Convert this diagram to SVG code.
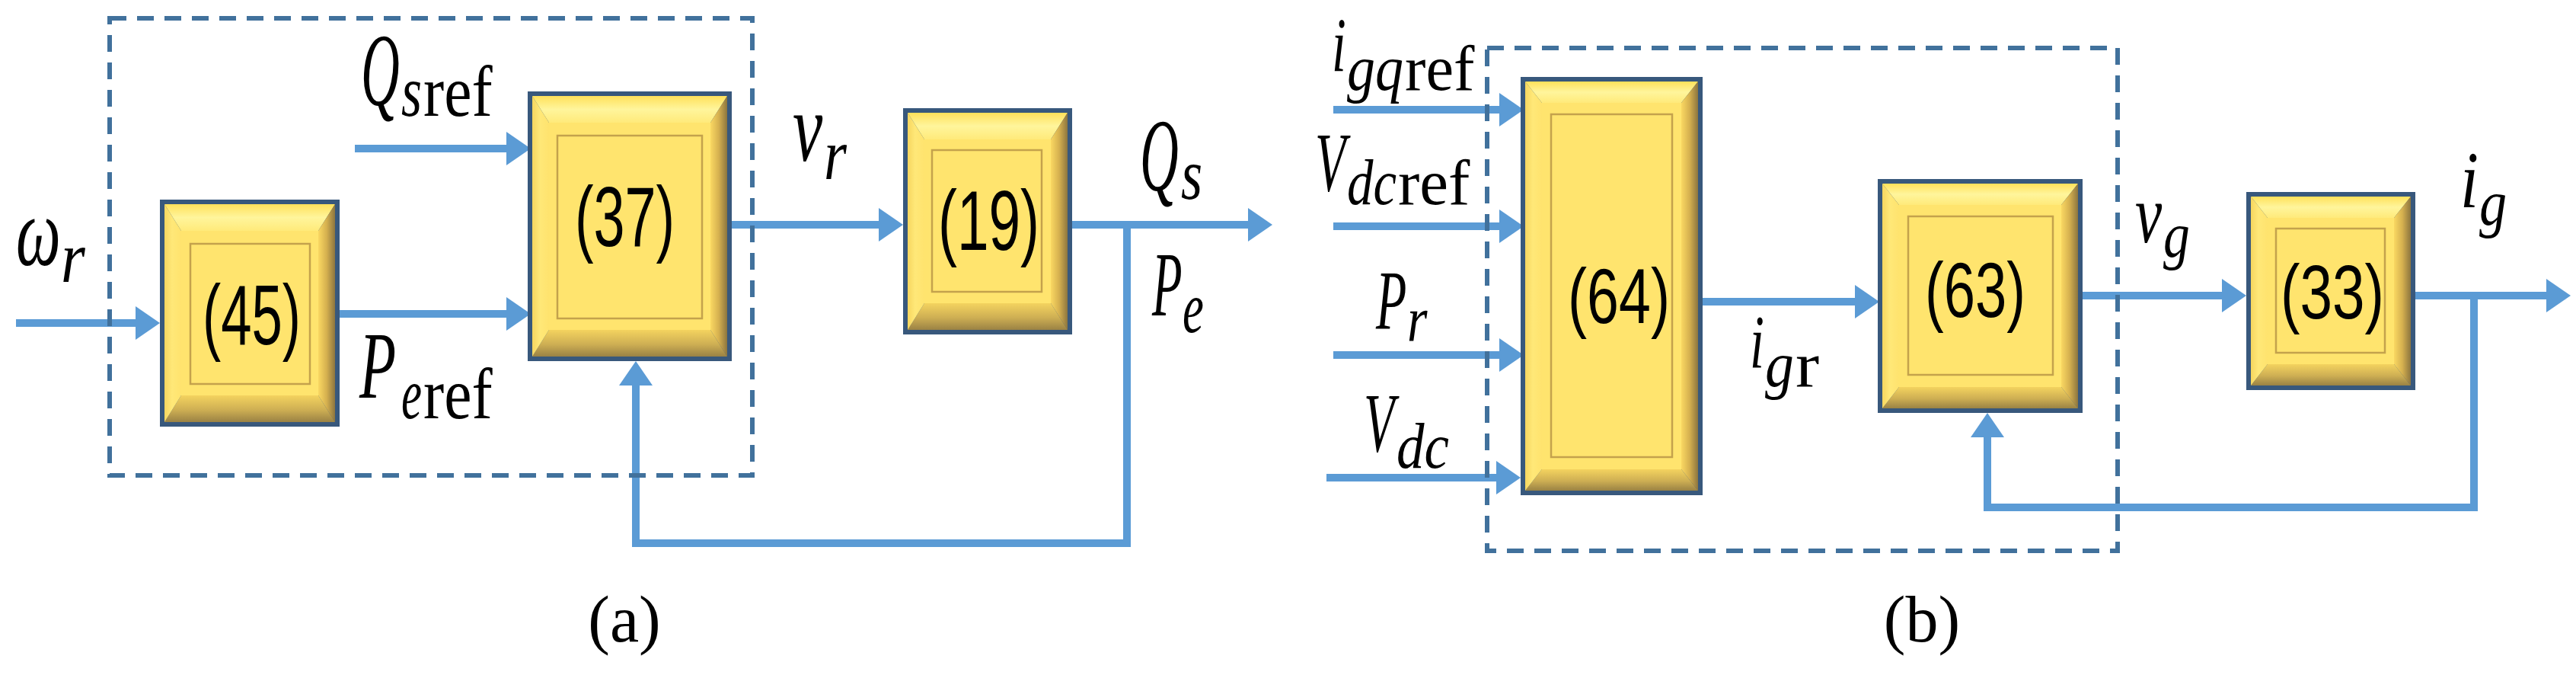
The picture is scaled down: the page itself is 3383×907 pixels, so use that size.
<svg xmlns="http://www.w3.org/2000/svg" width="3383" height="907" viewBox="0 0 3383 907">
<style>
.bg{fill:#ffffff}
.wire{fill:none;stroke:#5B9BD5;stroke-width:10;stroke-linejoin:miter}
.dash{fill:none;stroke:#41719C;stroke-width:6;stroke-dasharray:22 14}
.brd{fill:#38587C}
.top{fill:url(#gTop)}
.bot{fill:url(#gBot)}
.lft{fill:url(#gLeft)}
.rgt{fill:url(#gRight)}
.ctr{fill:#FFE46E}
.inr{fill:#FFE46E;stroke:#C4A24C;stroke-width:2.5}
.num{font-family:"Liberation Sans","Noto Sans",sans-serif;fill:#000}
.m{font-family:"Liberation Serif","DejaVu Serif",serif;fill:#000}
.it{font-style:italic}
.up{font-style:normal}
.cap{font-family:"Liberation Serif","DejaVu Serif",serif;font-size:86px;fill:#000;text-anchor:middle}
</style>
<defs>
<linearGradient id="gTop" x1="0" y1="0" x2="0" y2="1">
<stop offset="0" stop-color="#FFE15A"/><stop offset="0.5" stop-color="#FFF59C"/><stop offset="1" stop-color="#FFEA7A"/>
</linearGradient>
<linearGradient id="gBot" x1="0" y1="0" x2="0" y2="1">
<stop offset="0" stop-color="#F4D35F"/><stop offset="0.55" stop-color="#CDAE53"/><stop offset="1" stop-color="#9A8244"/>
</linearGradient>
<linearGradient id="gLeft" x1="0" y1="0" x2="1" y2="0">
<stop offset="0" stop-color="#F6D65F"/><stop offset="0.45" stop-color="#FFE878"/><stop offset="1" stop-color="#FFE36E"/>
</linearGradient>
<linearGradient id="gRight" x1="0" y1="0" x2="1" y2="0">
<stop offset="0" stop-color="#FAD862"/><stop offset="0.5" stop-color="#D5B04F"/><stop offset="1" stop-color="#8C753F"/>
</linearGradient>
<marker id="ah" markerUnits="userSpaceOnUse" markerWidth="32" markerHeight="44" viewBox="0 0 32 44" refX="0" refY="22" orient="auto">
<path d="M0,0 L32,22 L0,44 Z" fill="#5B9BD5"/>
</marker>
</defs>
<rect class="bg" x="0" y="0" width="3383" height="907"/>

<g id="connectors">
<path class="wire" d="M21,424 H178" marker-end="url(#ah)"/>
<path class="wire" d="M466,195 H665" marker-end="url(#ah)"/>
<path class="wire" d="M446,412 H665" marker-end="url(#ah)"/>
<path class="wire" d="M961,295 H1154" marker-end="url(#ah)"/>
<path class="wire" d="M1408,295 H1639" marker-end="url(#ah)"/>
<path class="wire" d="M1480,295 V713 H835 V506" marker-end="url(#ah)"/>
<path class="wire" d="M1751,144 H1969" marker-end="url(#ah)"/>
<path class="wire" d="M1751,297 H1969" marker-end="url(#ah)"/>
<path class="wire" d="M1751,466 H1969" marker-end="url(#ah)"/>
<path class="wire" d="M1742,627 H1965" marker-end="url(#ah)"/>
<path class="wire" d="M2236,396 H2436" marker-end="url(#ah)"/>
<path class="wire" d="M2735,388 H2918" marker-end="url(#ah)"/>
<path class="wire" d="M3172,388 H3344" marker-end="url(#ah)"/>
<path class="wire" d="M3249,388 V666 H2610 V574" marker-end="url(#ah)"/>
</g>

<g id="group-a">
<rect class="dash" x="144" y="24" width="844" height="600"/>
</g>
<g id="group-b">
<rect class="dash" x="1953" y="63" width="828" height="660"/>
</g>

<g id="block-45">
<rect class="brd" x="210" y="262" width="236" height="298"/>
<polygon class="top" points="216,268 440,268 418,303 238,303"/>
<polygon class="bot" points="216,554 440,554 418,519 238,519"/>
<polygon class="lft" points="216,268 238,303 238,519 216,554"/>
<polygon class="rgt" points="440,268 418,303 418,519 440,554"/>
<rect class="ctr" x="238" y="303" width="180" height="216"/>
<rect class="inr" x="250" y="320" width="157" height="184"/>
<text class="num" x="266" y="452" font-size="112" textLength="129" lengthAdjust="spacingAndGlyphs">(45)</text>
</g>

<g id="block-37">
<rect class="brd" x="693" y="120" width="268" height="354"/>
<polygon class="top" points="699,126 955,126 933,161 721,161"/>
<polygon class="bot" points="699,468 955,468 933,433 721,433"/>
<polygon class="lft" points="699,126 721,161 721,433 699,468"/>
<polygon class="rgt" points="955,126 933,161 933,433 955,468"/>
<rect class="ctr" x="721" y="161" width="212" height="272"/>
<rect class="inr" x="732" y="178" width="190" height="240"/>
<text class="num" x="755" y="323" font-size="112" textLength="131" lengthAdjust="spacingAndGlyphs">(37)</text>
</g>

<g id="block-19">
<rect class="brd" x="1186" y="142" width="222" height="297"/>
<polygon class="top" points="1192,148 1402,148 1380,183 1214,183"/>
<polygon class="bot" points="1192,433 1402,433 1380,398 1214,398"/>
<polygon class="lft" points="1192,148 1214,183 1214,398 1192,433"/>
<polygon class="rgt" points="1402,148 1380,183 1380,398 1402,433"/>
<rect class="ctr" x="1214" y="183" width="166" height="215"/>
<rect class="inr" x="1224" y="197" width="144" height="186"/>
<text class="num" x="1232" y="328" font-size="112" textLength="133" lengthAdjust="spacingAndGlyphs">(19)</text>
</g>

<g id="block-64">
<rect class="brd" x="1997" y="101" width="239" height="549"/>
<polygon class="top" points="2003,107 2230,107 2208,135 2025,135"/>
<polygon class="bot" points="2003,644 2230,644 2208,616 2025,616"/>
<polygon class="lft" points="2003,107 2025,135 2025,616 2003,644"/>
<polygon class="rgt" points="2230,107 2208,135 2208,616 2230,644"/>
<rect class="ctr" x="2025" y="135" width="183" height="481"/>
<rect class="inr" x="2037" y="150" width="159" height="450"/>
<text class="num" x="2059" y="424" font-size="102" textLength="134" lengthAdjust="spacingAndGlyphs">(64)</text>
</g>

<g id="block-63">
<rect class="brd" x="2466" y="235" width="269" height="307"/>
<polygon class="top" points="2472,241 2729,241 2707,269 2494,269"/>
<polygon class="bot" points="2472,536 2729,536 2707,508 2494,508"/>
<polygon class="lft" points="2472,241 2494,269 2494,508 2472,536"/>
<polygon class="rgt" points="2729,241 2707,269 2707,508 2729,536"/>
<rect class="ctr" x="2494" y="269" width="213" height="239"/>
<rect class="inr" x="2506" y="284" width="190" height="208"/>
<text class="num" x="2528" y="416" font-size="102" textLength="132" lengthAdjust="spacingAndGlyphs">(63)</text>
</g>

<g id="block-33">
<rect class="brd" x="2950" y="252" width="222" height="260"/>
<polygon class="top" points="2956,258 3166,258 3144,286 2978,286"/>
<polygon class="bot" points="2956,506 3166,506 3144,478 2978,478"/>
<polygon class="lft" points="2956,258 2978,286 2978,478 2956,506"/>
<polygon class="rgt" points="3166,258 3144,286 3144,478 3166,506"/>
<rect class="ctr" x="2978" y="286" width="166" height="192"/>
<rect class="inr" x="2989" y="300" width="143" height="163"/>
<text class="num" x="2995" y="418" font-size="100" textLength="136" lengthAdjust="spacingAndGlyphs">(33)</text>
</g>

<g id="labels">
<g id="lbl-omega-r">
<text class="m it" font-size="130" transform="translate(21,348) scale(0.64,1)">ω</text>
<text class="m it" font-size="95" transform="translate(80,370) scale(0.86,1)">r</text>
</g>
<g id="lbl-Qsref">
<text class="m it" font-size="135" transform="translate(474,138) scale(0.52,1)">Q</text>
<text class="m it" font-size="95" transform="translate(527,152) scale(0.73,1)">s</text>
<text class="m up" font-size="95" transform="translate(556,152) scale(0.86,1)">ref</text>
</g>
<g id="lbl-Peref">
<text class="m it" font-size="125" transform="translate(472,522) scale(0.63,1)">P</text>
<text class="m it" font-size="95" transform="translate(527,549) scale(0.64,1)">e</text>
<text class="m up" font-size="95" transform="translate(556,549) scale(0.86,1)">ref</text>
</g>
<g id="lbl-vr">
<text class="m it" font-size="130" transform="translate(1041,211) scale(0.68,1)">v</text>
<text class="m it" font-size="95" transform="translate(1082,235) scale(0.81,1)">r</text>
</g>
<g id="lbl-Qs">
<text class="m it" font-size="135" transform="translate(1497,250) scale(0.52,1)">Q</text>
<text class="m it" font-size="95" transform="translate(1551,261) scale(0.76,1)">s</text>
</g>
<g id="lbl-Pe">
<text class="m it" font-size="120" transform="translate(1513,414) scale(0.54,1)">P</text>
<text class="m it" font-size="95" transform="translate(1553,436) scale(0.66,1)">e</text>
</g>
<g id="lbl-igqref">
<text class="m it" font-size="102" transform="translate(1749,94) scale(0.66,1)">i</text>
<text class="m it" font-size="85" transform="translate(1769,118) scale(0.87,1)">gq</text>
<text class="m up" font-size="85" transform="translate(1845,118) scale(0.97,1)">ref</text>
</g>
<g id="lbl-Vdcref">
<text class="m it" font-size="110" transform="translate(1727,250) scale(0.6,1)">V</text>
<text class="m it" font-size="85" transform="translate(1769,268) scale(0.81,1)">dc</text>
<text class="m up" font-size="85" transform="translate(1836,268) scale(1,1)">ref</text>
</g>
<g id="lbl-Pr">
<text class="m it" font-size="110" transform="translate(1807,431) scale(0.6,1)">P</text>
<text class="m it" font-size="85" transform="translate(1848,448) scale(0.8,1)">r</text>
</g>
<g id="lbl-Vdc">
<text class="m it" font-size="110" transform="translate(1791,592) scale(0.6,1)">V</text>
<text class="m it" font-size="85" transform="translate(1834,614) scale(0.86,1)">dc</text>
</g>
<g id="lbl-igr">
<text class="m it" font-size="100" transform="translate(2298,482) scale(0.68,1)">i</text>
<text class="m it" font-size="85" transform="translate(2318,507) scale(0.89,1)">g</text>
<text class="m up" font-size="85" transform="translate(2358,507) scale(1.1,1)">r</text>
</g>
<g id="lbl-vg">
<text class="m it" font-size="110" transform="translate(2804,318) scale(0.72,1)">v</text>
<text class="m it" font-size="85" transform="translate(2841,337) scale(0.82,1)">g</text>
</g>
<g id="lbl-ig">
<text class="m it" font-size="105" transform="translate(3231,272) scale(0.82,1)">i</text>
<text class="m it" font-size="85" transform="translate(3256,295) scale(0.85,1)">g</text>
</g>
</g>

<g id="captions">
<text class="cap" x="820" y="842">(a)</text>
<text class="cap" x="2524" y="842">(b)</text>
</g>
</svg>
